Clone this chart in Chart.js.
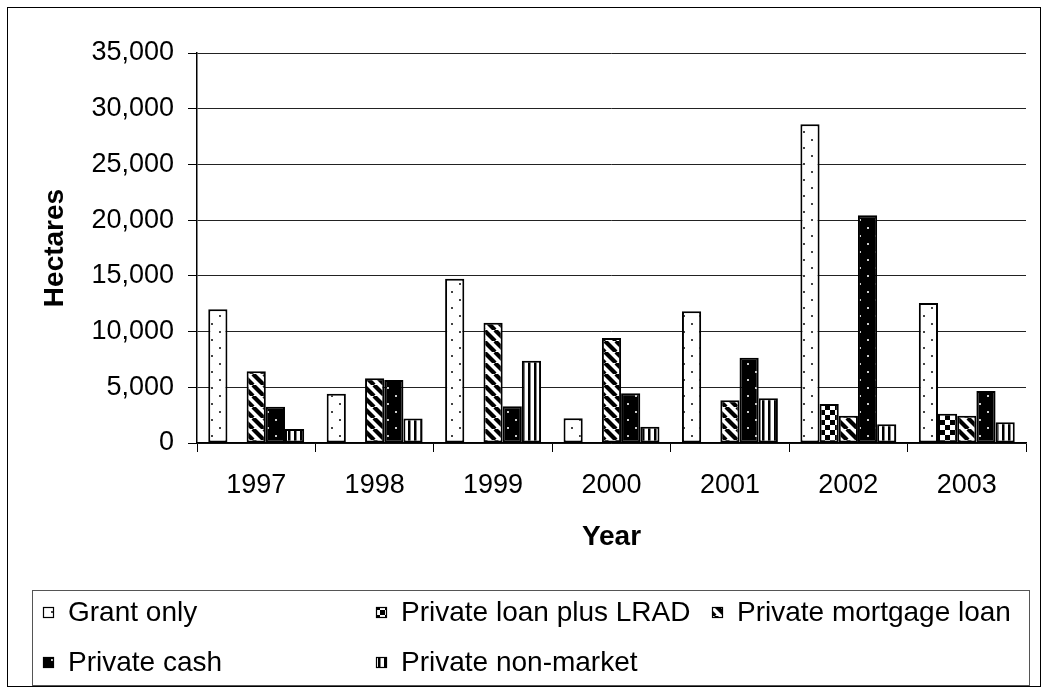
<!DOCTYPE html>
<html>
<head>
<meta charset="utf-8">
<title>Hectares by year</title>
<script src="https://cdn.jsdelivr.net/npm/chart.js@4/dist/chart.umd.min.js"></script>
<style>
  html, body { margin: 0; padding: 0; background: #fff; }
  #wrap { position: relative; width: 1050px; height: 692px; }
</style>
</head>
<body>
<div id="wrap"><canvas id="landChart"></canvas></div>
<script>
// Données
const years = ['1997', '1998', '1999', '2000', '2001', '2002', '2003'];
const grantOnly = [12000, 4430, 14750, 2215, 11820, 28600, 12570];
const loanPlusLrad = [null, null, null, null, null, 3500, 2630];
const mortgageLoan = [6440, 5800, 10800, 9425, 3830, 2450, 2450];
const privateCash = [3260, 5650, 3300, 4460, 7660, 20440, 4670];
const nonMarket = [1260, 2200, 7390, 1465, 4010, 1680, 1860];

const FONT = "'Liberation Sans', Arial, sans-serif";

// Motifs de remplissage (style noir et blanc)
function makePattern(w, h, draw) {
  const c = document.createElement('canvas');
  c.width = w;
  c.height = h;
  const ctx = c.getContext('2d');
  draw(ctx, w, h);
  return ctx.createPattern(c, 'repeat');
}

function dots(bg, fg) {
  return makePattern(16, 16, (ctx) => {
    ctx.fillStyle = bg;
    ctx.fillRect(0, 0, 16, 16);
    ctx.fillStyle = fg;
    ctx.fillRect(3, 3, 2, 2);
    ctx.fillRect(11, 11, 2, 2);
  });
}

const grantFill = dots('#fff', '#444');
const cashFill = dots('#000', '#ccc');

const checkerFill = makePattern(10, 10, (ctx) => {
  ctx.fillStyle = '#fff';
  ctx.fillRect(0, 0, 10, 10);
  ctx.fillStyle = '#000';
  ctx.fillRect(0, 0, 5, 5);
  ctx.fillRect(5, 5, 5, 5);
});

const diagonalFill = makePattern(11, 11, (ctx) => {
  ctx.fillStyle = '#fff';
  ctx.fillRect(0, 0, 11, 11);
  ctx.strokeStyle = '#000';
  ctx.lineWidth = 4.2;
  [-11, 0, 11].forEach(o => {
    ctx.beginPath();
    ctx.moveTo(o, 0);
    ctx.lineTo(o + 11, 11);
    ctx.stroke();
  });
});

const verticalFill = makePattern(6, 6, (ctx) => {
  ctx.fillStyle = '#fff';
  ctx.fillRect(0, 0, 6, 6);
  ctx.fillStyle = '#000';
  ctx.fillRect(0, 0, 2.5, 6);
});

// Fond blanc + cadre extérieur
const framePlugin = {
  id: 'frame',
  beforeDraw(chart) {
    const ctx = chart.ctx;
    ctx.save();
    ctx.fillStyle = '#fff';
    ctx.fillRect(0, 0, chart.width, chart.height);
    ctx.restore();
  },
  afterDraw(chart) {
    const ctx = chart.ctx;
    ctx.save();
    ctx.strokeStyle = '#000';
    ctx.lineWidth = 1;
    ctx.strokeRect(7.5, 7.5, 1033, 679);
    ctx.restore();
  }
};

// Légende encadrée sur deux lignes
const boxLegend = {
  id: 'boxLegend',
  afterDraw(chart) {
    const ctx = chart.ctx;
    const slots = [[43, 612], [376, 612], [712, 612], [43, 662], [376, 662]];
    ctx.save();
    ctx.strokeStyle = '#555';
    ctx.lineWidth = 1;
    ctx.strokeRect(32.5, 590.5, 997, 95);
    ctx.font = '28px ' + FONT;
    ctx.textBaseline = 'middle';
    chart.data.datasets.forEach((ds, i) => {
      const [x, y] = slots[i];
      ctx.fillStyle = ds.backgroundColor;
      ctx.fillRect(x, y - 5, 11, 11);
      ctx.strokeStyle = '#000';
      ctx.lineWidth = 1.2;
      ctx.strokeRect(x + 0.5, y - 4.5, 10, 10);
      ctx.fillStyle = '#000';
      ctx.fillText(ds.label, x + 25, y + 1);
    });
    ctx.restore();
  }
};

function series(label, data, fill) {
  return {
    label: label,
    data: data,
    backgroundColor: fill,
    borderColor: '#000',
    borderWidth: 2,
    borderSkipped: false,
    categoryPercentage: 0.81,
    barPercentage: 1.0
  };
}

new Chart(document.getElementById('landChart'), {
  type: 'bar',
  data: {
    labels: years,
    datasets: [
      series('Grant only', grantOnly, grantFill),
      series('Private loan plus LRAD', loanPlusLrad, checkerFill),
      series('Private mortgage loan', mortgageLoan, diagonalFill),
      series('Private cash', privateCash, cashFill),
      series('Private non-market', nonMarket, verticalFill)
    ]
  },
  options: {
    responsive: true,
    maintainAspectRatio: false,
    animation: false,
    layout: {
      padding: { left: 30, top: 53, right: 24, bottom: 127 }
    },
    plugins: {
      legend: { display: false },
      tooltip: { enabled: false }
    },
    scales: {
      x: {
        afterFit: (scale) => { scale.height = 122; },
        grid: {
          offset: true,
          drawOnChartArea: false,
          color: '#000',
          tickLength: 9
        },
        border: { color: '#000', width: 1.5 },
        ticks: {
          color: '#000',
          padding: 17,
          font: { family: FONT, size: 27 }
        },
        title: {
          display: true,
          text: 'Year',
          color: '#000',
          padding: { top: 0, bottom: 11 },
          font: { family: FONT, size: 28, weight: 'bold' }
        }
      },
      y: {
        min: 0,
        max: 35000,
        afterFit: (scale) => { scale.width = 167; },
        grid: {
          color: '#222',
          lineWidth: 1,
          tickColor: '#000',
          tickLength: 9
        },
        border: { color: '#000', width: 1.5 },
        ticks: {
          stepSize: 5000,
          color: '#000',
          padding: 14,
          font: { family: FONT, size: 27 },
          callback: (v) => v.toLocaleString('en-US')
        },
        title: {
          display: true,
          text: 'Hectares',
          color: '#000',
          padding: { top: 8, bottom: 0 },
          font: { family: FONT, size: 28, weight: 'bold' }
        }
      }
    }
  },
  plugins: [framePlugin, boxLegend]
});
</script>
</body>
</html>
